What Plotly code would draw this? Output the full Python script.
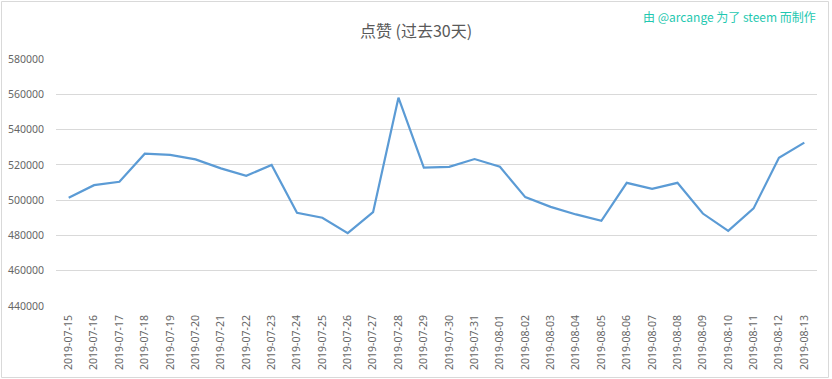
import plotly.graph_objects as go

dates = ["2019-07-15", "2019-07-16", "2019-07-17", "2019-07-18", "2019-07-19", "2019-07-20",
         "2019-07-21", "2019-07-22", "2019-07-23", "2019-07-24", "2019-07-25", "2019-07-26",
         "2019-07-27", "2019-07-28", "2019-07-29", "2019-07-30", "2019-07-31", "2019-08-01",
         "2019-08-02", "2019-08-03", "2019-08-04", "2019-08-05", "2019-08-06", "2019-08-07",
         "2019-08-08", "2019-08-09", "2019-08-10", "2019-08-11", "2019-08-12", "2019-08-13"]
upvotes = [501300, 508500, 510400, 526300, 525700, 523100,
           518000, 513800, 519900, 492800, 490000, 481300,
           493200, 558100, 518400, 518900, 523300, 518900,
           501700, 496200, 491900, 488300, 509800, 506400,
           509800, 492400, 482600, 495300, 524000, 532600]
y_ticks = [440000, 460000, 480000, 500000, 520000, 540000, 560000, 580000]

title_text = "点赞 (过去30天)"
credit_text = "由 @arcange 为了 steem 而制作"

W, H = 832, 379
L, R, T, B = 56, 15, 59, 73
plot_w = W - L - R
plot_h = H - T - B

def px_x(x):
    return (x - L) / plot_w

def px_y(y):
    return 1 - (y - T) / plot_h

text_gray = "#666666"

fig = go.Figure()
fig.add_trace(go.Scatter(x=dates, y=upvotes, mode="lines",
                         line=dict(color="#5b9bd5", width=2.2), hoverinfo="x+y"))

fig.update_layout(
    width=W, height=H,
    margin=dict(l=L, r=R, t=T, b=B, autoexpand=False),
    paper_bgcolor="white", plot_bgcolor="white",
    showlegend=False,
    font=dict(family="Noto Sans, Noto Sans CJK SC, sans-serif", size=10.5, color=text_gray),
    title=dict(text=title_text, x=0.5, xanchor="center", y=1 - 31 / H, yanchor="middle",
               font=dict(family="Noto Sans CJK SC, sans-serif", size=16, color="#595959")),
    xaxis=dict(type="category", range=[-0.5, len(dates) - 0.5], showgrid=False,
               tickangle=-90, ticks="", showline=False, zeroline=False, automargin=False,
               ticklabelstandoff=6,
               tickfont=dict(size=10.5, color=text_gray)),
    yaxis=dict(range=[440000, 580000], tickvals=y_ticks, showgrid=True,
               gridcolor="#d9d9d9", gridwidth=1, zeroline=False, showline=False,
               ticks="", ticklabelstandoff=11, tickformat="d", automargin=False,
               tickfont=dict(size=10.5, color=text_gray)),
)

fig.add_annotation(text=credit_text, xref="paper", yref="paper",
                   x=px_x(818), y=px_y(17), xanchor="right", yanchor="middle",
                   showarrow=False,
                   font=dict(family="Noto Sans CJK SC, sans-serif", size=12, color="#1fc8b0"))

fig.add_shape(type="rect", xref="paper", yref="paper",
              x0=px_x(1.5), x1=px_x(828.5), y0=px_y(377.5), y1=px_y(1.5),
              line=dict(color="#d9d9d9", width=1), layer="below")

fig.write_html("out.html", config={"displayModeBar": False},
               post_script="document.body.style.margin='0';document.body.style.overflow='hidden';")
